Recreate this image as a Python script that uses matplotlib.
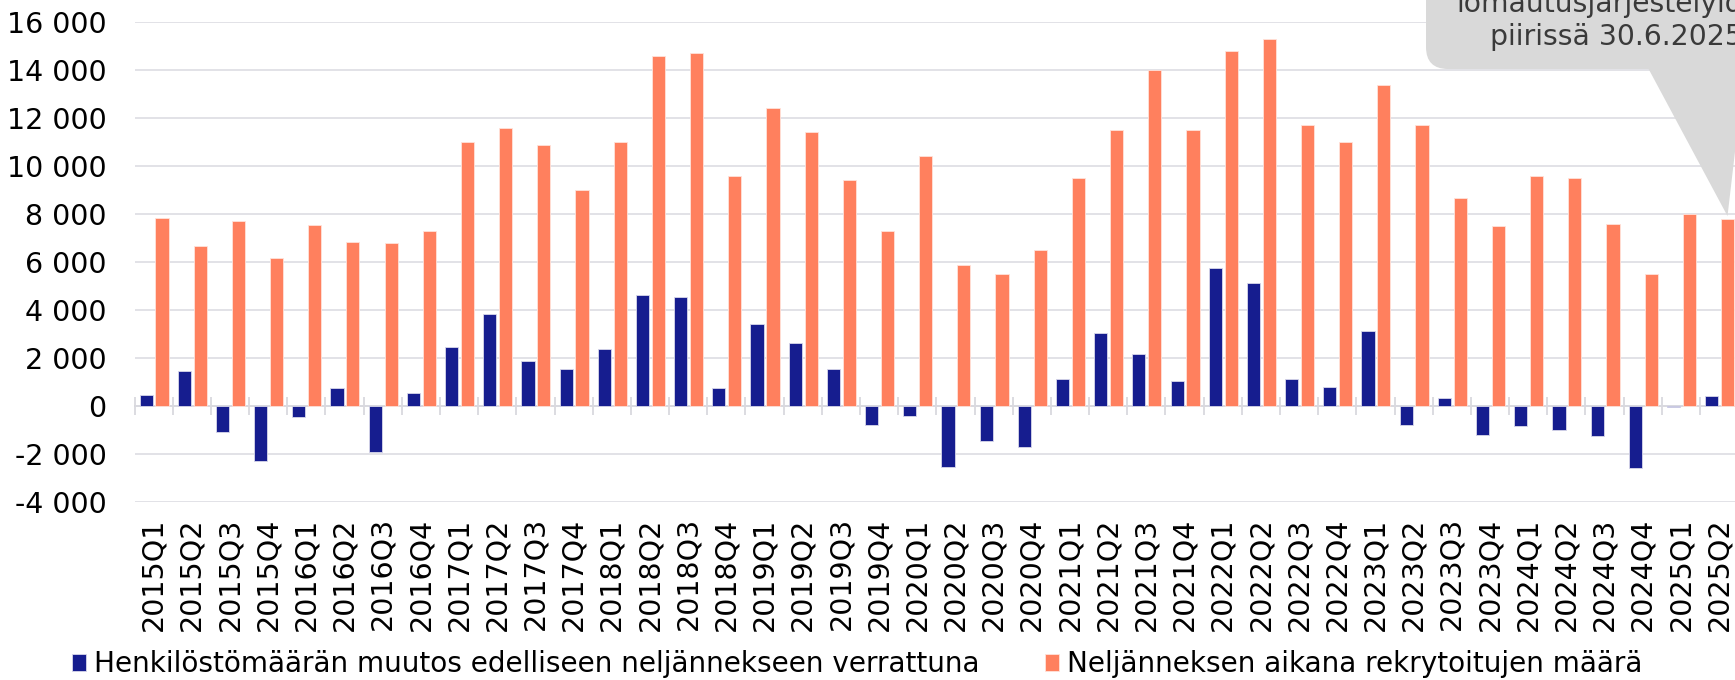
import numpy as np
import matplotlib
matplotlib.use("Agg")
import matplotlib.pyplot as plt
from matplotlib.patches import FancyBboxPatch, Polygon
from matplotlib.transforms import IdentityTransform

plt.rcParams['font.family'] = ['DejaVu Sans']

quarters = [f"{y}Q{q}" for y in range(2015, 2026) for q in range(1, 5)][:42]

staff_change = [470, 1440, -1070, -2280, -440, 750, -1920, 560,
                2460, 3830, 1890, 1530, 2360, 4610, 4560, 740,
                3420, 2610, 1530, -780, -400, -2540, -1470, -1690,
                1140, 3040, 2180, 1040, 5740, 5130, 1130, 790,
                3110, -810, 350, -1220, -830, -1010, -1250, -2570,
                -50, 400]

recruited = [7820, 6670, 7690, 6170, 7530, 6850, 6810, 7290,
             10990, 11600, 10890, 8990, 10990, 14580, 14710, 9600,
             12400, 11400, 9400, 7290, 10400, 5880, 5490, 6490,
             9490, 11500, 14000, 11500, 14790, 15290, 11690, 10990,
             13390, 11690, 8680, 7490, 9600, 9490, 7580, 5490,
             8000, 7790]

legend_labels = ["Henkilöstömäärän muutos edelliseen neljännekseen verrattuna",
                 "Neljänneksen aikana rekrytoitujen määrä"]
callout_lines = ["lomautusjärjestelyiden", "piirissä 30.6.2025"]

W, H = 1735, 680
fig = plt.figure(figsize=(W / 100, H / 100), dpi=100)
ax = fig.add_axes([134.5 / W, 1 - 502 / H, 1603.7 / W, 480 / H])

blue = '#161d8f'
orange = '#ff805e'
grid_c = '#dadae0'
FS = 20.5

n = len(quarters)
x = np.arange(n)
b1 = ax.bar(x - 0.195, staff_change, width=0.345, color=blue,
            edgecolor='#d8d8ea', linewidth=0.6, zorder=3, label=legend_labels[0])
b2 = ax.bar(x + 0.22, recruited, width=0.345, color=orange,
            edgecolor='#ffe2da', linewidth=0.6, zorder=3, label=legend_labels[1])

ymin, ymax = -4000, 16000
ax.set_xlim(-0.5, n - 0.5)
ax.set_ylim(ymin, ymax)
yt = list(range(ymin, ymax + 1, 2000))
ax.set_yticks(yt)
ax.set_yticklabels([f"{v:,}".replace(',', ' ') for v in yt])
ax.yaxis.grid(True, color=grid_c, linewidth=1.1)
ax.set_axisbelow(True)
for s in ax.spines.values():
    s.set_visible(False)
ax.tick_params(axis='y', length=0, pad=20, labelsize=FS, labelcolor='black')
ax.set_xticks(x)
ax.set_xticklabels(quarters, rotation=90)
ax.tick_params(axis='x', length=0, pad=11, labelsize=FS)

# zero line with category boundary ticks
sec = ax.secondary_xaxis((0 - ymin) / (ymax - ymin))
sec.set_xticks(np.arange(n + 1) - 0.5)
sec.set_xticklabels([])
sec.tick_params(direction='inout', length=13, width=1.2, color='#d6d6dc')
for s in sec.spines.values():
    s.set_visible(False)
sec.spines['bottom'].set_visible(True)
sec.spines['bottom'].set_color('#d6d6dc')
sec.spines['bottom'].set_linewidth(1.3)

# legend
fig.legend(handles=[b1, b2], labels=legend_labels, loc='center left',
           bbox_to_anchor=(72 / W, 1 - 664 / H), ncol=2, frameon=False,
           fontsize=20.1, handlelength=0.5, handleheight=0.55, handletextpad=0.28,
           columnspacing=2.35, borderpad=0, borderaxespad=0)

# callout (pixel/display coordinates)
fig.canvas.draw()
tip = ax.transData.transform((x[-1] + 0.22, recruited[-1]))
tip = (tip[0], tip[1] + 3)
box_color = '#d9d9d9'
box = FancyBboxPatch((1426, H - 69), 500, 300,
                     boxstyle="round,pad=0,rounding_size=22",
                     transform=IdentityTransform(), facecolor=box_color,
                     edgecolor='none', zorder=10)
fig.patches.append(box)
ptr = Polygon([(1647, H - 66), (1745, H - 66), tip], closed=True,
              transform=IdentityTransform(), facecolor=box_color,
              edgecolor='none', zorder=10)
fig.patches.append(ptr)
fig.text(1456, H - 12, callout_lines[0], transform=IdentityTransform(),
         fontsize=20.3, color='#3a3a3a', ha='left', va='baseline', zorder=11)
fig.text(1490, H - 45, callout_lines[1], transform=IdentityTransform(),
         fontsize=20.3, color='#3a3a3a', ha='left', va='baseline', zorder=11)

fig.savefig('out.png', dpi=100)
